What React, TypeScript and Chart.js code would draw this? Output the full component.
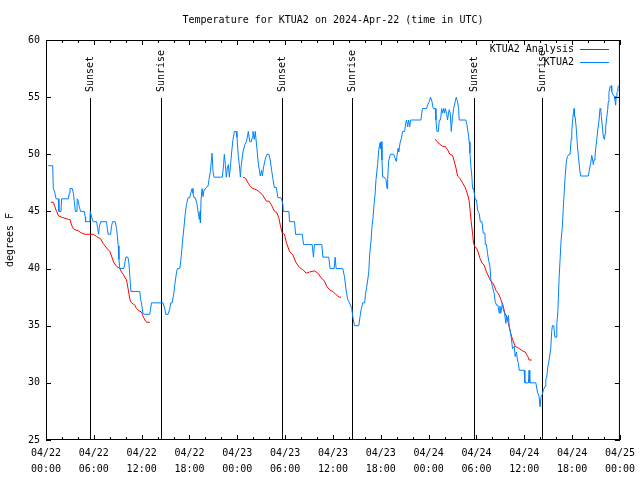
import React, { useEffect, useRef } from "react";
import { Chart, registerables } from "chart.js";

Chart.register(...registerables);

const TITLE = "Temperature for KTUA2 on 2024-Apr-22 (time in UTC)";
const Y_TITLE = "degrees F";
const LABEL_ANALYSIS = "KTUA2 Analysis";
const LABEL_OBS = "KTUA2";

// x axis: hours since 2024-04-22 00:00 UTC
const X_TICK_HOURS = [0, 6, 12, 18, 24, 30, 36, 42, 48, 54, 60, 66, 72];
const X_TICK_DATES = ["04/22", "04/22", "04/22", "04/22", "04/23", "04/23", "04/23", "04/23", "04/24", "04/24", "04/24", "04/24", "04/25"];
const X_TICK_TIMES = ["00:00", "06:00", "12:00", "18:00", "00:00", "06:00", "12:00", "18:00", "00:00", "06:00", "12:00", "18:00", "00:00"];
const X_MINOR_HOURS = [2, 4, 8, 10, 14, 16, 20, 22, 26, 28, 32, 34, 38, 40, 44, 46, 50, 52, 56, 58, 62, 64, 68, 70];
const Y_TICKS = [25, 30, 35, 40, 45, 50, 55, 60];

const SUN_LABELS = ["Sunset", "Sunrise", "Sunset", "Sunrise", "Sunset", "Sunrise"];
const SUN_HOURS = [5.55, 14.44, 29.59, 38.38, 53.63, 62.27];

// KTUA2 observations
const obsHours = [
  0.28, 0.84, 0.92, 1.09, 1.26, 1.54, 1.62, 1.88, 1.96, 2.8, 2.93, 3.01, 3.3, 3.43, 3.55, 3.68, 3.88, 3.92, 4.05, 4.17,
  4.35, 4.8, 4.93, 4.97, 5.51, 5.55, 5.72, 5.93, 6.35, 6.47, 6.6, 6.68, 6.85, 7.6, 7.68, 7.8, 8.1, 8.22, 8.35, 8.68,
  8.85, 8.93, 9.06, 9.15, 9.26, 9.77, 9.89, 10.02, 10.27, 10.4, 10.52, 10.65, 11.77, 11.86, 11.98, 12.15, 12.32, 13.02, 13.23, 14.68,
  14.9, 15.02, 15.32, 15.53, 15.65, 15.82, 16.03, 16.16, 16.36, 16.48, 16.78, 16.9, 17.03, 17.19, 17.32, 17.45, 17.62, 17.82, 18.04, 18.15,
  18.32, 18.44, 18.57, 18.74, 18.95, 19.11, 19.24, 19.33, 19.37, 19.45, 19.58, 19.7, 19.83, 19.95, 20.11, 20.32, 20.45, 20.62, 20.74, 20.83,
  20.95, 21.08, 22.12, 22.29, 22.37, 22.5, 22.62, 22.75, 22.88, 23.0, 23.13, 23.29, 23.46, 23.63, 23.84, 23.96, 24.12, 24.29, 24.38, 24.5,
  24.71, 24.92, 25.13, 25.26, 25.38, 25.55, 25.76, 25.88, 25.96, 26.13, 26.25, 26.46, 26.63, 26.88, 27.05, 27.14, 27.3, 27.55, 27.72, 27.96,
  28.13, 28.3, 28.46, 28.64, 28.89, 29.09, 29.47, 29.59, 29.72, 29.77, 30.47, 30.55, 31.18, 31.31, 32.14, 32.31, 33.39, 33.55, 33.68, 34.6,
  34.73, 35.47, 35.64, 36.15, 36.27, 36.4, 37.23, 37.44, 37.65, 37.85, 38.07, 38.36, 38.48, 38.7, 39.23, 39.4, 39.53, 39.73, 39.98, 40.07,
  40.23, 40.36, 40.49, 40.61, 40.78, 40.9, 41.03, 41.15, 41.28, 41.4, 41.61, 41.74, 41.91, 41.95, 42.03, 42.15, 42.23, 42.44, 42.65, 42.78,
  42.86, 42.98, 43.2, 43.62, 43.83, 43.91, 43.99, 44.17, 44.24, 44.42, 44.58, 44.74, 44.99, 45.11, 45.24, 45.36, 45.49, 45.62, 45.74, 47.03,
  47.16, 47.23, 47.74, 47.86, 48.08, 48.24, 48.42, 48.58, 48.83, 48.92, 49.04, 49.21, 49.34, 49.5, 49.63, 49.75, 49.88, 50.0, 50.08, 50.25,
  50.37, 50.5, 50.58, 50.71, 50.84, 50.96, 51.13, 51.34, 51.47, 51.63, 51.76, 51.84, 52.67, 52.8, 52.93, 53.09, 53.18, 53.31, 53.43, 53.51,
  53.64, 53.77, 53.85, 54.01, 54.14, 54.35, 54.48, 54.69, 54.85, 55.06, 55.11, 55.26, 55.39, 55.56, 55.69, 55.81, 56.01, 56.23, 56.35, 56.52,
  56.69, 56.85, 56.94, 57.06, 57.26, 57.35, 57.52, 57.69, 57.77, 57.89, 58.02, 58.11, 58.23, 58.36, 58.52, 58.74, 58.86, 59.02, 59.14, 59.27,
  59.36, 59.99, 60.07, 60.52, 60.6, 60.69, 61.45, 61.65, 61.86, 61.98, 62.1, 62.27, 62.4, 62.61, 62.7, 62.82, 62.95, 63.11, 63.32, 63.45,
  63.53, 63.7, 63.83, 63.99, 64.08, 64.21, 64.28, 64.37, 64.49, 64.61, 64.78, 64.9, 65.03, 65.15, 65.28, 65.41, 65.62, 65.75, 65.87, 65.96,
  66.09, 66.16, 66.25, 66.29, 66.38, 66.54, 66.66, 66.79, 66.96, 67.08, 68.03, 68.2, 68.33, 68.46, 68.53, 68.66, 68.75, 68.87, 68.96, 69.09,
  69.21, 69.38, 69.5, 69.59, 69.67, 69.8, 69.92, 70.05, 70.13, 70.21, 70.34, 70.46, 70.54, 70.62, 70.75, 70.88, 70.97, 71.13, 71.29, 71.37,
  71.46, 71.53, 71.62, 71.71, 71.79,
];
const obsTemps = [
  49, 49, 47.0, 46.7, 46.1, 46.1, 45.0, 45.0, 46.1, 46.1, 46.6, 47.0, 47.0, 46.6, 45.9, 45.0, 45.0, 46.1, 45.9, 45.4,
  45.0, 45.0, 44.5, 44.1, 44.1, 45.0, 44.5, 44.1, 44.1, 43.6, 43.0, 43.6, 44.1, 44.1, 43.5, 43.0, 43.0, 43.7, 44.1, 44.1,
  43.5, 43.0, 42.0, 40.8, 40.0, 40.0, 40.5, 41.0, 41.0, 40.5, 39.3, 38.0, 38.0, 37.3, 37.0, 36.1, 36.0, 36.0, 37.0, 37.0,
  36.5, 36.0, 36.0, 36.5, 37.0, 37.0, 37.8, 38.6, 39.6, 40.0, 40.0, 40.6, 41.6, 42.8, 43.7, 44.7, 45.6, 46.2, 46.2, 46.6,
  47.0, 46.6, 46.2, 46.2, 45.6, 44.8, 44.3, 45.0, 44.0, 46.0, 47.0, 46.3, 46.9, 46.9, 47.1, 47.2, 47.8, 48.5, 49.4, 50.1,
  48.5, 48.0, 48.0, 49.2, 50.0, 49.1, 48.0, 48.8, 49.1, 48.0, 48.9, 50.2, 51.3, 52.0, 52.0, 51.5, 49.9, 48.8, 48.0, 49.1,
  50.2, 50.8, 51.1, 51.5, 52.0, 51.1, 51.1, 51.5, 52.0, 51.3, 52.0, 50.5, 49.2, 48.1, 48.6, 48.1, 48.9, 49.7, 50.0, 50.0,
  49.5, 48.6, 47.9, 47.1, 47.1, 46.2, 46.2, 46.0, 45.6, 45.0, 45.0, 44.1, 44.1, 43.0, 43.0, 42.1, 42.1, 41.0, 42.1, 42.1,
  41.0, 41.0, 40.0, 40.0, 41.0, 40.0, 40.0, 39.3, 38.1, 37.3, 37.0, 36.5, 35.8, 35.0, 35.0, 35.8, 36.4, 37.0, 37.0, 37.7,
  38.4, 39.0, 39.7, 41.3, 42.5, 43.7, 44.5, 45.6, 46.5, 47.8, 49.2, 50.4, 51.0, 50.5, 51.1, 49.5, 48.0, 48.0, 47.8, 47.0,
  47.8, 49.4, 50.0, 50.0, 49.6, 49.4, 49.7, 50.5, 50.2, 51.0, 51.4, 52.0, 52.0, 52.7, 53.0, 52.4, 53.0, 52.4, 53.0, 53.0,
  53.7, 54.0, 54.0, 54.3, 54.6, 55.0, 54.6, 54.0, 54.0, 53.0, 52.0, 52.0, 53.0, 53.0, 54.0, 53.6, 54.0, 53.6, 54.0, 53.6,
  53.0, 53.6, 53.9, 53.6, 52.0, 53.0, 54.0, 54.6, 55.0, 54.6, 54.0, 53.0, 53.0, 52.6, 52.0, 51.1, 50.1, 48.9, 48.0, 47.0,
  47.0, 46.4, 46.0, 46.0, 45.1, 44.8, 44.1, 44.1, 43.1, 43.1, 42.1, 42.1, 41.3, 40.6, 40.2, 39.0, 38.4, 37.8, 37.1, 36.8,
  36.8, 36.1, 36.7, 36.1, 37.0, 36.5, 36.1, 35.2, 35.9, 35.4, 35.9, 34.9, 34.6, 34.0, 33.0, 33.2, 32.3, 32.7, 32.0, 31.7,
  31.1, 31.1, 30.0, 30.0, 31.1, 30.0, 30.0, 29.2, 28.8, 27.9, 28.8, 29.0, 29.4, 29.7, 30.3, 30.5, 31.4, 32.0, 33.0, 34.6,
  35.0, 35.0, 34.0, 34.0, 35.2, 36.2, 37.5, 39.2, 40.8, 42.4, 43.7, 45.4, 46.9, 48.3, 49.4, 49.8, 50.0, 50.0, 51.3, 52.1,
  53.2, 53.6, 54.0, 53.3, 53.3, 52.1, 50.8, 49.8, 48.6, 48.1, 48.1, 48.8, 49.2, 49.9, 49.7, 49.1, 49.5, 49.8, 50.5, 51.3,
  52.1, 53.0, 54.0, 53.9, 53.3, 52.4, 51.5, 51.3, 51.8, 52.4, 53.2, 53.9, 54.6, 55.4, 55.9, 56.0, 55.5, 55.2, 55.1, 54.8,
  54.3, 55.0, 55.4, 55.5, 56.0,
];

// KTUA2 Analysis (null = no analysis)
const anaHours = [
  0.62, 0.91, 1.12, 1.33, 1.58, 1.96, 2.38, 2.8, 3.0, 3.21, 3.42, 3.63, 4.05, 4.47, 4.89, 5.29, 5.51, 5.93, 6.35, 6.85,
  7.17, 7.6, 8.01, 8.22, 8.52, 8.85, 9.26, 9.47, 9.68, 10.1, 10.31, 10.52, 10.73, 11.14, 11.35, 11.68, 11.98, 12.19, 12.49, 12.68,
  13.02, 18.0,
  24.71, 25.04, 25.33, 25.63, 25.96, 26.38, 26.8, 27.21, 27.64, 27.96, 28.26, 28.67, 28.96, 29.22, 29.39, 29.63, 29.92, 30.14, 30.55, 30.97,
  31.38, 31.8, 32.22, 32.64, 33.06, 33.68, 34.1, 34.52, 34.93, 35.26, 35.65, 35.98, 36.4, 36.82, 37.03, 42.0,
  48.79, 49.12, 49.34, 49.75, 50.08, 50.37, 50.67, 51.0, 51.21, 51.43, 51.63, 51.92, 52.25, 52.59, 52.88, 53.09, 53.22, 53.34, 53.51, 53.63,
  53.81, 54.01, 54.23, 54.44, 54.69, 54.97, 55.26, 55.6, 55.81, 56.1, 56.44, 56.77, 57.06, 57.35, 57.56, 57.77, 58.02, 58.27, 58.52, 58.86,
  59.36, 59.77, 60.11, 60.28, 60.52, 60.6, 60.94,
];
const anaTemps = [
  45.8, 45.8, 45.4, 45.0, 44.6, 44.5, 44.4, 44.3, 44.3, 43.8, 43.5, 43.4, 43.3, 43.1, 43.0, 43.0, 43.0, 43.0, 42.8, 42.6,
  42.2, 41.8, 41.5, 41.1, 40.5, 40.2, 40.0, 39.7, 39.5, 39.0, 38.2, 37.3, 37.0, 36.8, 36.5, 36.3, 36.2, 35.8, 35.4, 35.3,
  35.3, null,
  48.0, 47.9, 47.5, 47.2, 47.0, 46.9, 46.7, 46.4, 45.9, 45.9, 45.6, 45.0, 44.9, 44.4, 43.8, 43.1, 43.0, 42.3, 41.5, 41.2,
  40.5, 40.1, 39.9, 39.6, 39.7, 39.8, 39.6, 39.2, 38.9, 38.4, 38.1, 38.0, 37.7, 37.5, 37.5, null,
  51.3, 51.1, 50.9, 50.7, 50.7, 50.4, 50.0, 49.9, 49.4, 48.8, 48.1, 47.9, 47.5, 47.1, 46.5, 45.9, 45.0, 44.1, 43.1, 42.2,
  41.9, 41.8, 41.4, 40.9, 40.5, 40.3, 39.7, 39.2, 38.9, 38.7, 38.1, 37.8, 37.3, 36.7, 36.1, 35.8, 35.2, 34.4, 33.8, 33.2,
  33.0, 32.8, 32.7, 32.5, 32.2, 32.0, 32.0,
];

const FONT_FAMILY = '"DejaVu Sans Mono", monospace';
const FONT = `10px ${FONT_FAMILY}`;
const OBS_COLOR = "#0080ff";
const ANA_COLOR = "#ff0000";

const decorPlugin = {
  id: "decor",
  beforeDatasetsDraw(chart: any) {
    const { ctx, chartArea: a, scales } = chart;
    const x = scales.x;
    const h = a.bottom - a.top;
    const lineTop = a.bottom - h * 0.855;
    const textStart = a.bottom - h * 0.87;
    ctx.save();
    ctx.strokeStyle = "#000";
    ctx.fillStyle = "#000";
    ctx.lineWidth = 1;
    ctx.font = FONT;
    SUN_HOURS.forEach((hr, i) => {
      const px = Math.round(x.getPixelForValue(hr)) + 0.5;
      ctx.beginPath();
      ctx.moveTo(px, a.bottom);
      ctx.lineTo(px, lineTop);
      ctx.stroke();
      ctx.save();
      ctx.translate(px, textStart);
      ctx.rotate(-Math.PI / 2);
      ctx.textAlign = "left";
      ctx.textBaseline = "middle";
      ctx.fillText(SUN_LABELS[i], 0, 0);
      ctx.restore();
    });
    ctx.restore();
  },
  afterDraw(chart: any) {
    const { ctx, chartArea: a, scales } = chart;
    const x = scales.x;
    const y = scales.y;
    ctx.save();
    ctx.strokeStyle = "#000";
    ctx.lineWidth = 1;
    // frame
    ctx.strokeRect(a.left + 0.5, a.top + 0.5, a.right - a.left - 1, a.bottom - a.top - 1);
    // ticks (inward, mirrored)
    ctx.beginPath();
    const xt = (v: number, len: number) => {
      const px = Math.round(x.getPixelForValue(v)) + 0.5;
      ctx.moveTo(px, a.bottom);
      ctx.lineTo(px, a.bottom - len);
      ctx.moveTo(px, a.top);
      ctx.lineTo(px, a.top + len);
    };
    X_TICK_HOURS.forEach((v) => xt(v, 5));
    X_MINOR_HOURS.forEach((v) => xt(v, 3));
    Y_TICKS.forEach((v) => {
      const py = Math.round(y.getPixelForValue(v)) + 0.5;
      ctx.moveTo(a.left, py);
      ctx.lineTo(a.left + 5, py);
      ctx.moveTo(a.right, py);
      ctx.lineTo(a.right - 5, py);
    });
    ctx.stroke();

    // title
    ctx.fillStyle = "#000";
    ctx.font = FONT;
    ctx.textAlign = "center";
    ctx.textBaseline = "middle";
    ctx.fillText(TITLE, (a.left + a.right) / 2, 20);

    // legend
    const items = [
      { label: LABEL_ANALYSIS, color: ANA_COLOR, y: 49 },
      { label: LABEL_OBS, color: OBS_COLOR, y: 62 },
    ];
    items.forEach((it) => {
      ctx.fillStyle = "#000";
      ctx.textAlign = "right";
      ctx.fillText(it.label, a.right - 46, it.y);
      ctx.strokeStyle = it.color;
      ctx.beginPath();
      ctx.moveTo(a.right - 40, it.y + 0.5);
      ctx.lineTo(a.right - 11, it.y + 0.5);
      ctx.stroke();
    });
    ctx.restore();
  },
};

export default function App() {
  const canvasRef = useRef<HTMLCanvasElement | null>(null);

  useEffect(() => {
    const canvas = canvasRef.current;
    if (!canvas) return;
    const obsData = obsHours.map((hr, i) => ({ x: hr, y: obsTemps[i] }));
    const anaData = anaHours.map((hr, i) => ({ x: hr, y: anaTemps[i] }));
    const chart = new Chart(canvas, {
      type: "line",
      data: {
        datasets: [
          {
            label: LABEL_OBS,
            data: obsData as any,
            borderColor: OBS_COLOR,
            backgroundColor: OBS_COLOR,
            borderWidth: 1,
            pointRadius: 0,
            tension: 0,
            fill: false,
          },
          {
            label: LABEL_ANALYSIS,
            data: anaData as any,
            borderColor: ANA_COLOR,
            backgroundColor: ANA_COLOR,
            borderWidth: 1,
            pointRadius: 0,
            tension: 0,
            fill: false,
            spanGaps: false,
          },
        ],
      },
      options: {
        responsive: false,
        maintainAspectRatio: false,
        animation: false,
        events: [],
        layout: { padding: { top: 40, right: 19, left: 0, bottom: 0 } },
        plugins: {
          legend: { display: false },
          title: { display: false },
          tooltip: { enabled: false },
        },
        scales: {
          x: {
            type: "linear",
            min: 0,
            max: 72,
            afterFit: (s: any) => {
              s.height = 40;
            },
            afterBuildTicks: (s: any) => {
              s.ticks = X_TICK_HOURS.map((v) => ({ value: v }));
            },
            grid: { display: false, drawTicks: false },
            border: { display: false },
            ticks: {
              autoSkip: false,
              maxRotation: 0,
              minRotation: 0,
              padding: 5,
              color: "#000",
              font: { family: FONT_FAMILY, size: 10, lineHeight: 1.6 },
              callback: (_v: any, i: number) => [X_TICK_DATES[i], X_TICK_TIMES[i]],
            },
          },
          y: {
            type: "linear",
            min: 25,
            max: 60,
            afterFit: (s: any) => {
              s.width = 46;
            },
            afterBuildTicks: (s: any) => {
              s.ticks = Y_TICKS.map((v) => ({ value: v }));
            },
            grid: { display: false, drawTicks: false },
            border: { display: false },
            ticks: {
              padding: 6,
              color: "#000",
              font: { family: FONT_FAMILY, size: 10 },
              callback: (v: any) => String(v),
            },
            title: {
              display: true,
              text: Y_TITLE,
              color: "#000",
              font: { family: FONT_FAMILY, size: 10, lineHeight: 1.2 },
              padding: { top: 4, bottom: 0 },
            },
          },
        },
      },
      plugins: [decorPlugin],
    });
    return () => chart.destroy();
  }, []);

  return (
    <div style={{ position: "fixed", left: 0, top: 0, width: 640, height: 480, background: "#fff" }}>
      <canvas ref={canvasRef} width={640} height={480} style={{ display: "block", width: 640, height: 480 }} />
    </div>
  );
}
